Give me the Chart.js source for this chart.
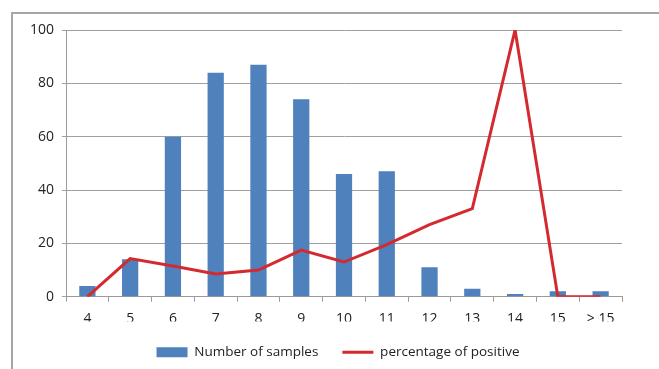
<!DOCTYPE html>
<html>
<head>
<meta charset="utf-8">
<script src="https://cdn.jsdelivr.net/npm/chart.js@4"></script>
<style>
html,body{margin:0;padding:0;background:#fff;overflow:hidden;}
#wrap{position:relative;width:659px;height:369px;}
#frame{position:absolute;left:11px;top:12px;width:700px;height:400px;border-left:2px solid #a6a6a6;border-top:2px solid #a6a6a6;pointer-events:none;}
canvas{position:absolute;left:0;top:0;}
</style>
</head>
<body>
<div id="wrap">
<canvas id="c" width="659" height="369"></canvas>
<div id="frame"></div>
</div>
<script>
const categories = ['4','5','6','7','8','9','10','11','12','13','14','15','> 15'];
const numberOfSamples = [4, 14, 60, 84, 87, 74, 46, 47, 11, 3, 1, 2, 2];
const percentagePositive = [0, 14.3, 11.5, 8.5, 10, 17.5, 13, 19.5, 27, 33, 100, 0, 0];
const yTicks = [0, 20, 40, 60, 80, 100];

const FONT = {family: '"Open Sans", "Liberation Sans", sans-serif', size: 14};
const LEGEND_FONT = {family: '"Open Sans", "Liberation Sans", sans-serif', size: 13.5};

new Chart(document.getElementById('c'), {
  data: {
    labels: categories,
    datasets: [
      {
        type: 'line',
        label: 'percentage of positive',
        data: percentagePositive,
        borderColor: '#d42a2f',
        backgroundColor: '#d42a2f',
        borderWidth: 3,
        pointRadius: 0,
        pointStyle: 'line',
        tension: 0,
        order: 0
      },
      {
        type: 'bar',
        label: 'Number of samples',
        data: numberOfSamples,
        backgroundColor: '#4f81bd',
        borderWidth: 0,
        pointStyle: 'rect',
        categoryPercentage: 1,
        barPercentage: 0.38,
        order: 1
      }
    ]
  },
  options: {
    responsive: false,
    animation: false,
    layout: {padding: {top: 30, right: 0, left: 17, bottom: 0}},
    plugins: {
      tooltip: {enabled: false},
      legend: {
        position: 'bottom',
        reverse: true,
        labels: {
          usePointStyle: true,
          pointStyleWidth: 31,
          boxHeight: 10,
          color: '#222',
          font: LEGEND_FONT,
          padding: 24
        }
      }
    },
    scales: {
      x: {
        offset: true,
        afterFit: (s) => { s.height = s.height - 15; },
        grid: {display: true, drawOnChartArea: false, drawTicks: true, tickLength: 5, color: '#9a9a9a', offset: true},
        border: {color: '#9a9a9a', width: 1},
        ticks: {color: '#222', font: FONT, padding: 9, maxRotation: 0, autoSkip: false}
      },
      y: {
        min: 0, max: 100,
        afterBuildTicks: (s) => { s.ticks = yTicks.map(v => ({value: v})); },
        afterFit: (s) => { s.width = 49; },
        grid: {color: '#a0a0a0', lineWidth: 1, tickLength: 4},
        border: {color: '#9a9a9a', width: 1},
        ticks: {color: '#222', font: FONT, padding: 8}
      },
      y2: {
        position: 'right',
        display: true,
        min: 0, max: 1,
        afterFit: (s) => { s.width = 37; },
        grid: {display: false, drawTicks: false},
        border: {display: false},
        ticks: {display: false}
      }
    }
  }
});
</script>
</body>
</html>
